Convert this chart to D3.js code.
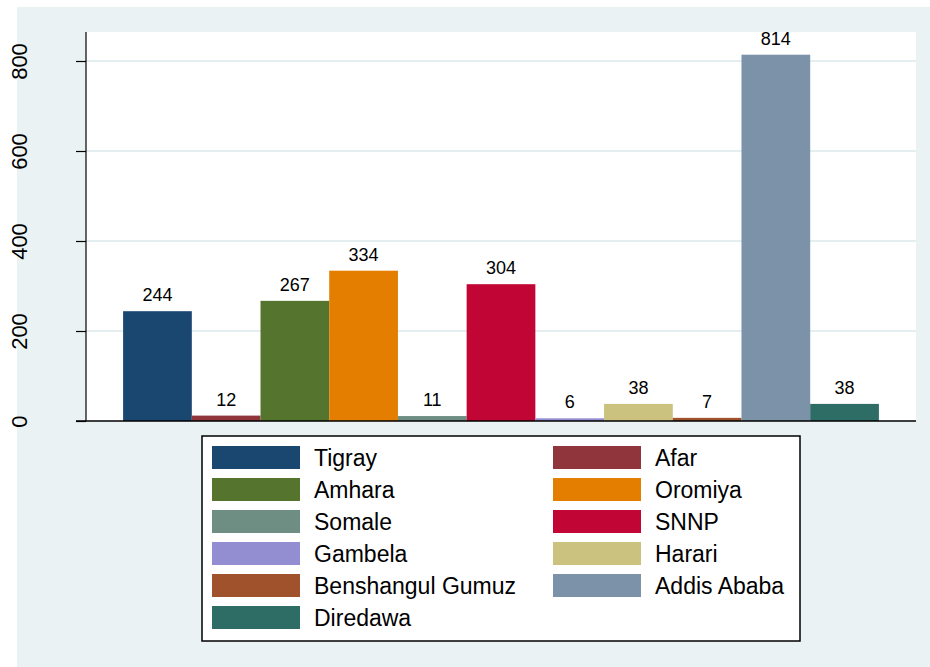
<!DOCTYPE html>
<html>
<head>
<meta charset="utf-8">
<script src="https://cdn.jsdelivr.net/npm/d3@7"></script>
<style>
  body { margin: 0; background: #ffffff; }
  text { font-family: "Liberation Sans", Arial, sans-serif; fill: #000; }
</style>
</head>
<body>
<script>
//chart data
var regions = ["Tigray", "Afar", "Amhara", "Oromiya", "Somale", "SNNP",
               "Gambela", "Harari", "Benshangul Gumuz", "Addis Ababa", "Diredawa"];
var counts = [244, 12, 267, 334, 11, 304, 6, 38, 7, 814, 38];
var yTicks = [0, 200, 400, 600, 800];
var colors = ["#1a476f", "#90353b", "#55752f", "#e37e00", "#6e8e84", "#c10534",
              "#938dd2", "#cac27e", "#a0522d", "#7b92a8", "#2d6d66"];

var w = 930, h = 667;

var svg = d3.select("body").append("svg")
    .attr("width", w)
    .attr("height", h);

//outer graph region
svg.append("rect")
    .attr("x", 17).attr("y", 7)
    .attr("width", w - 17).attr("height", h - 7)
    .style("fill", "#eaf2f3");

//plot region bounds
var plotL = 86, plotR = 916, plotT = 32, plotB = 421;
svg.append("rect")
    .attr("x", plotL).attr("y", plotT)
    .attr("width", plotR - plotL).attr("height", plotB - plotT)
    .style("fill", "#ffffff");

var x = d3.scaleBand()
    .domain(regions)
    .range([plotL, plotR])
    .paddingInner(0)
    .paddingOuter(0.54);

var y = d3.scaleLinear()
    .domain([0, 800])
    .range([plotB, 61]);

//gridlines
svg.selectAll(".grid")
    .data(yTicks.slice(1))
    .enter()
    .append("line")
    .attr("class", "grid")
    .attr("x1", plotL).attr("x2", plotR)
    .attr("y1", function(d){ return y(d); })
    .attr("y2", function(d){ return y(d); })
    .style("stroke", "#e4edef")
    .style("stroke-width", 2);

//bars
svg.selectAll(".bar")
    .data(regions)
    .enter()
    .append("rect")
    .attr("class", "bar")
    .attr("x", function(d){ return x(d); })
    .attr("width", x.bandwidth())
    .attr("y", function(d, i){ return y(counts[i]); })
    .attr("height", function(d, i){ return y(0) - y(counts[i]); })
    .style("fill", function(d, i){ return colors[i]; });

//value labels
svg.selectAll(".val")
    .data(regions)
    .enter()
    .append("text")
    .attr("class", "val")
    .attr("text-anchor", "middle")
    .attr("x", function(d){ return x(d) + x.bandwidth() / 2; })
    .attr("y", function(d, i){ return y(counts[i]) - 10; })
    .style("font-size", "18px")
    .text(function(d, i){ return counts[i]; });

//y axis
var yAxis = d3.axisLeft(y)
    .tickValues(yTicks)
    .tickSize(10)
    .tickFormat(d3.format("d"));

var axis = svg.append("g")
    .attr("transform", "translate(" + plotL + ",0)")
    .call(yAxis);
axis.select(".domain")
    .attr("d", "M0," + plotT + "V" + plotB)
    .style("stroke", "#000")
    .style("stroke-width", 1.2);
axis.selectAll(".tick line").style("stroke", "#000").style("stroke-width", 1.2);
axis.selectAll(".tick text")
    .attr("x", null).attr("dy", null)
    .attr("text-anchor", "middle")
    .attr("transform", "translate(-59,0) rotate(-90)")
    .style("font-size", "22px")
    .style("font-family", "'Liberation Sans', Arial, sans-serif");

//baseline
svg.append("line")
    .attr("x1", plotL - 10).attr("x2", plotR)
    .attr("y1", y(0)).attr("y2", y(0))
    .style("stroke", "#000")
    .style("stroke-width", 1.5);

//legend
var legend = svg.append("g");
legend.append("rect")
    .attr("x", 202).attr("y", 436)
    .attr("width", 598).attr("height", 205)
    .style("fill", "#ffffff")
    .style("stroke", "#000")
    .style("stroke-width", 1.5);

var items = legend.selectAll(".item")
    .data(regions)
    .enter()
    .append("g")
    .attr("class", "item")
    .attr("transform", function(d, i){
        var col = i % 2, row = Math.floor(i / 2);
        return "translate(" + (212 + col * 341) + "," + (446 + row * 32) + ")";
    });

items.append("rect")
    .attr("width", 88).attr("height", 23)
    .style("fill", function(d, i){ return colors[i]; });

items.append("text")
    .attr("x", 102)
    .attr("y", 20)
    .style("font-size", "23px")
    .text(function(d){ return d; });
</script>
</body>
</html>
